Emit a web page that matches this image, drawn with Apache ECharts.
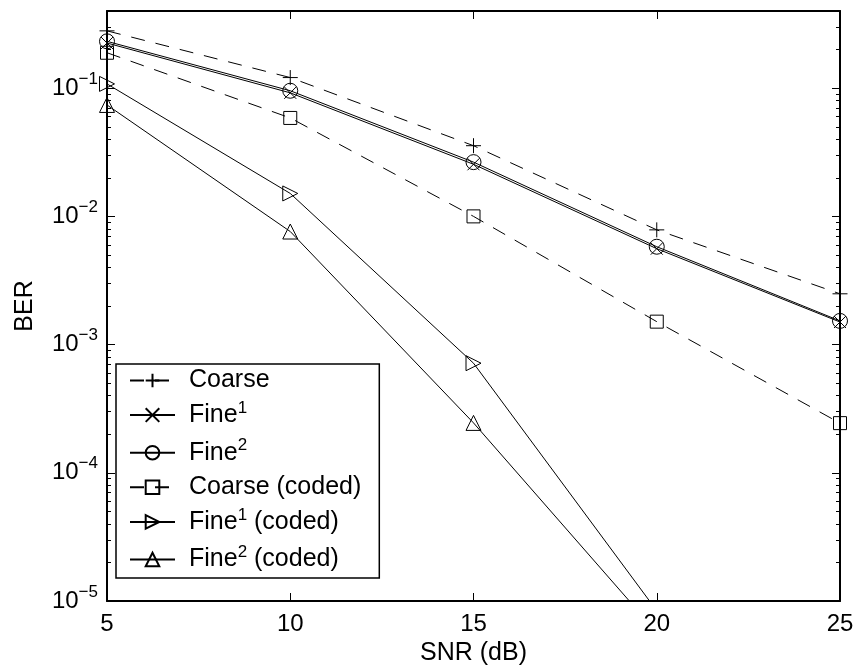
<!DOCTYPE html>
<html><head><meta charset="utf-8">
<script src="https://cdn.jsdelivr.net/npm/echarts@6/dist/echarts.min.js"></script>
<style>html,body{margin:0;padding:0;background:#fff}#c{width:856px;height:672px}</style>
</head><body><div id="c"></div>
<script>
// ---- data ----
const snr = [5, 10, 15, 20, 25];
const seriesNames = ['Coarse', 'Fine1', 'Fine2', 'Coarse (coded)', 'Fine1 (coded)', 'Fine2 (coded)'];
const coarse = [0.28, 0.121, 0.0356, 0.00785, 0.00249];
const fine1 = [0.225, 0.092, 0.0255, 0.0056, 0.00150];
const fine2 = [0.232, 0.0955, 0.0265, 0.0058, 0.00153];
const coarseCoded = [0.189, 0.0586, 0.0100, 0.00151, 0.000244];
const fine1Coded = [0.108, 0.0151, 0.000716, 0.0000084];
const fine2Coded = [0.074, 0.00762, 0.000245, 0.0000057];
const xTicks = [5, 10, 15, 20, 25];
const yMin = 1e-5, yMax = 0.4;
const yDecades = [-5, -4, -3, -2, -1];
const yMinorMultipliers = [2, 3, 4, 5, 6, 7, 8, 9];

// ---- chart ----
const FONT = 'Liberation Sans, Arial, Helvetica, sans-serif';
const minorLog = [];
yDecades.forEach(e => yMinorMultipliers.forEach(k => {
  const v = k * Math.pow(10, e);
  if (v <= yMax) minorLog.push(Math.log10(v));
}));

const axisLineStyle = { show: true, onZero: false, lineStyle: { color: '#000', width: 2 } };

function mk(name, data, symbol, size, dashed) {
  return {
    name, type: 'line', xAxisIndex: 0, yAxisIndex: 0,
    data: data.map((v, i) => [snr[i], v]),
    symbol, symbolSize: size, showSymbol: true, clip: true,
    lineStyle: { color: '#000', width: 1, type: dashed ? [14, 11] : 'solid' },
    itemStyle: { color: 'transparent', borderColor: '#000', borderWidth: 1 },
    emphasis: { disabled: true }
  };
}

const chart = echarts.init(document.getElementById('c'), null, { renderer: 'canvas' });
chart.setOption({
  animation: false,
  backgroundColor: '#fff',
  textStyle: { fontFamily: FONT, color: '#000' },
  grid: { left: 107, right: 16, top: 11, bottom: 71, outerBoundsMode: 'none' },
  xAxis: [
    { type: 'value', min: 5, max: 25, interval: 5, position: 'bottom',
      axisLine: axisLineStyle,
      axisTick: { show: true, inside: true, length: 8, lineStyle: { color: '#000', width: 1 } },
      axisLabel: { fontSize: 24, color: '#000', margin: 11, fontFamily: FONT },
      splitLine: { show: false },
      name: 'SNR (dB)', nameLocation: 'middle', nameGap: 36,
      nameTextStyle: { fontSize: 25, color: '#000', fontFamily: FONT } },
    { type: 'value', min: 5, max: 25, interval: 5, position: 'top',
      axisLine: axisLineStyle,
      axisTick: { show: true, inside: true, length: 8, lineStyle: { color: '#000', width: 1 } },
      axisLabel: { show: false }, splitLine: { show: false } }
  ],
  yAxis: [
    { type: 'log', logBase: 10, min: yMin, max: yMax, position: 'left',
      axisLine: axisLineStyle,
      axisTick: { show: true, inside: true, length: 8, lineStyle: { color: '#000', width: 1 } },
      axisLabel: {
        margin: 9, color: '#000', fontFamily: FONT,
        formatter: function (v) {
          const l = Math.log10(v), e = Math.round(l);
          if (Math.abs(l - e) > 1e-6 || yDecades.indexOf(e) < 0) return '';
          return '{b|10}{s|\u2212' + (-e) + '}';
        },
        rich: {
          b: { fontSize: 24, fontFamily: FONT, color: '#000', lineHeight: 28 },
          s: { fontSize: 17, fontFamily: FONT, color: '#000', lineHeight: 17, padding: [0, 0, 18, 0] }
        }
      },
      splitLine: { show: false },
      name: 'BER', nameLocation: 'middle', nameGap: 69,
      nameTextStyle: { fontSize: 25, color: '#000', fontFamily: FONT } },
    { type: 'log', logBase: 10, min: yMin, max: yMax, position: 'right',
      axisLine: axisLineStyle,
      axisTick: { show: true, inside: true, length: 8, lineStyle: { color: '#000', width: 1 } },
      axisLabel: { show: false }, splitLine: { show: false } },
    { type: 'value', min: Math.log10(yMin), max: Math.log10(yMax), position: 'left',
      axisLine: { show: false, onZero: false },
      axisTick: { show: true, inside: true, length: 4, customValues: minorLog, lineStyle: { color: '#000', width: 1 } },
      axisLabel: { show: false }, splitLine: { show: false } },
    { type: 'value', min: Math.log10(yMin), max: Math.log10(yMax), position: 'right',
      axisLine: { show: false, onZero: false },
      axisTick: { show: true, inside: true, length: 4, customValues: minorLog, lineStyle: { color: '#000', width: 1 } },
      axisLabel: { show: false }, splitLine: { show: false } }
  ],
  legend: {
    orient: 'vertical', left: 116, top: 364,
    itemWidth: 45, itemHeight: 17, itemGap: 6.6,
    padding: [4, 18, 3, 13],
    borderColor: '#000', borderWidth: 1.5, backgroundColor: '#fff',
    selectedMode: false,
    data: seriesNames,
    formatter: function (name) {
      const m = name.match(/^Fine(\d)(.*)$/);
      if (m) return '{t|Fine}{s|' + m[1] + '}' + (m[2] ? '{t|' + m[2] + '}' : '');
      return '{t|' + name + '}';
    },
    textStyle: {
      fontSize: 25, color: '#000', fontFamily: FONT, padding: [0, 0, 0, 9],
      rich: {
        t: { fontSize: 25, fontFamily: FONT, color: '#000', lineHeight: 30 },
        s: { fontSize: 17, fontFamily: FONT, color: '#000', lineHeight: 17, padding: [0, 0, 14, 0] }
      }
    }
  },
  series: [
    mk(seriesNames[0], coarse, 'path://M5,0L5,10M0,5L10,5', 15, true),
    mk(seriesNames[1], fine1, 'path://M0,0L10,10M0,10L10,0', 12, false),
    mk(seriesNames[2], fine2, 'circle', 15, false),
    mk(seriesNames[3], coarseCoded, 'rect', 13, true),
    mk(seriesNames[4], fine1Coded, 'path://M0,0L10,5L0,10Z', 15, false),
    mk(seriesNames[5], fine2Coded, 'triangle', 15, false)
  ]
});
</script>
</body></html>
